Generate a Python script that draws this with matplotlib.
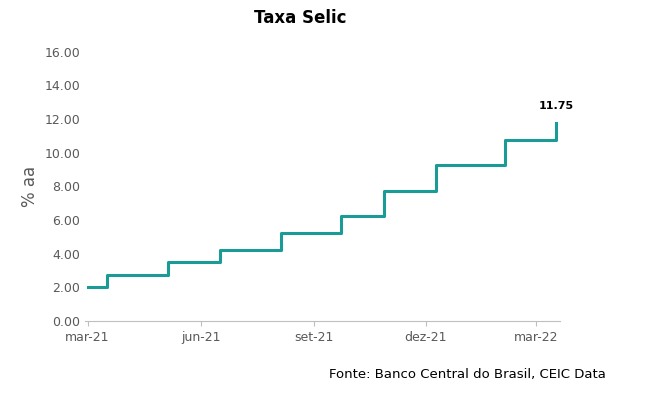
import matplotlib
matplotlib.use("Agg")
import matplotlib.pyplot as plt
import pandas as pd

change_dates = ["2021-03-01", "2021-03-17", "2021-05-05", "2021-06-17", "2021-08-05",
                "2021-09-23", "2021-10-28", "2021-12-09", "2022-02-03", "2022-03-17"]
rates = [2.00, 2.75, 3.50, 4.25, 5.25, 6.25, 7.75, 9.25, 10.75, 11.75]
tick_dates = ["2021-03-01", "2021-06-01", "2021-09-01", "2021-12-01", "2022-03-01"]
tick_labels = ["mar-21", "jun-21", "set-21", "dez-21", "mar-22"]

x = pd.to_datetime(change_dates)
fig = plt.figure(figsize=(6.45, 4.18), dpi=100)
ax = fig.add_axes([0.132, 0.232, 0.736, 0.644])
ax.plot(x, rates, drawstyle="steps-post", color="#1a9b95", lw=2.2)
ax.set_xlim(pd.Timestamp("2021-02-27"), pd.Timestamp("2022-03-20"))
ax.set_ylim(0, 16)
ax.set_yticks(range(0, 17, 2))
ax.set_yticklabels([f"{v:.2f}" for v in range(0, 17, 2)])
ax.set_xticks(pd.to_datetime(tick_dates))
ax.set_xticklabels(tick_labels)
for s in ["top", "right", "left"]:
    ax.spines[s].set_visible(False)
ax.spines["bottom"].set_color("#bfbfbf")
ax.tick_params(axis="y", length=0, labelsize=9, colors="#595959")
ax.tick_params(axis="x", labelsize=9, colors="#595959", color="#bfbfbf")
ax.set_ylabel("% aa", fontsize=12, color="#595959")
ax.annotate(f"{rates[-1]:.2f}", (x[-1], rates[-1]), xytext=(0, 10), textcoords="offset points",
            ha="center", fontsize=8, fontweight="bold")
fig.text(0.465, 0.945, "Taxa Selic", ha="center", fontsize=12, fontweight="bold")
fig.text(0.94, 0.095, "Fonte: Banco Central do Brasil, CEIC Data", ha="right", fontsize=9.5)
fig.savefig("out.png", dpi=100)
